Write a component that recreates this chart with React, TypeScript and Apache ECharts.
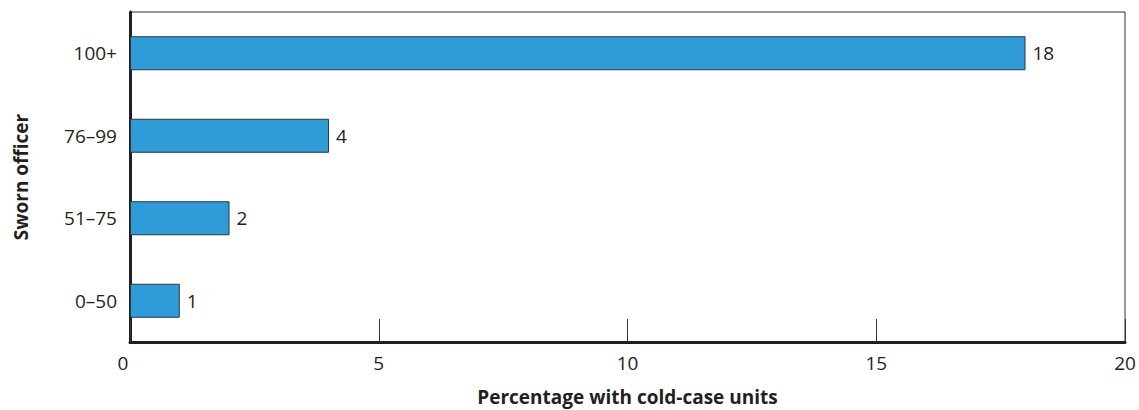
import React, { useEffect, useRef } from "react";
import * as echarts from "echarts";

const categories = ["0–50", "51–75", "76–99", "100+"];
const values = [1, 2, 4, 18];
const xTicks = [0, 5, 10, 15, 20];

const FONT = "'Open Sans', 'Noto Sans', sans-serif";
const TEXT = "#231f20";

export default function App() {
  const ref = useRef<HTMLDivElement>(null);
  useEffect(() => {
    if (!ref.current) return;
    const chart = echarts.init(ref.current, undefined, { renderer: "svg" });
    chart.setOption({
      animation: false,
      backgroundColor: "#ffffff",
      textStyle: { fontFamily: FONT },
      grid: {
        left: 130,
        right: 14,
        top: 12,
        bottom: 68,
        show: true,
        borderColor: "#333333",
        borderWidth: 1,
        containLabel: false,
        outerBoundsMode: "none",
      },
      xAxis: {
        type: "value",
        min: xTicks[0],
        max: xTicks[xTicks.length - 1],
        interval: 5,
        name: "Percentage with cold-case units",
        nameLocation: "middle",
        nameGap: 45,
        nameTextStyle: { fontFamily: FONT, fontSize: 19, fontWeight: "bold", color: TEXT },
        axisLine: { show: true, lineStyle: { color: TEXT, width: 3 } },
        axisTick: { show: true, inside: true, length: 23, lineStyle: { color: "#333333", width: 1 } },
        axisLabel: {
          fontFamily: FONT,
          fontSize: 19,
          color: TEXT,
          margin: 11,
          formatter: (v: number) => (v === 0 ? "{z|0}" : String(v)),
          rich: {
            z: { fontFamily: FONT, fontSize: 19, color: TEXT, padding: [0, 14, 0, 0] },
          },
        },
        splitLine: { show: false },
      },
      yAxis: {
        type: "category",
        data: categories,
        name: "Sworn officer",
        nameLocation: "middle",
        nameGap: 100,
        nameRotate: 90,
        nameTextStyle: { fontFamily: FONT, fontSize: 19, fontWeight: "bold", color: TEXT },
        axisLine: { show: true, lineStyle: { color: TEXT, width: 3 } },
        axisTick: { show: false },
        axisLabel: { fontFamily: FONT, fontSize: 19, color: TEXT, margin: 13 },
        splitLine: { show: false },
      },
      series: [
        {
          type: "bar",
          data: values,
          barWidth: 34,
          itemStyle: { color: "#2f9bd7", borderColor: "#263847", borderWidth: 1 },
          label: {
            show: true,
            position: "right",
            distance: 7,
            fontFamily: FONT,
            fontSize: 19,
            color: TEXT,
          },
        },
      ],
    });
    return () => chart.dispose();
  }, []);
  return (
    <div
      ref={ref}
      style={{ position: "absolute", left: 0, top: 0, width: 1139, height: 410 }}
    />
  );
}
